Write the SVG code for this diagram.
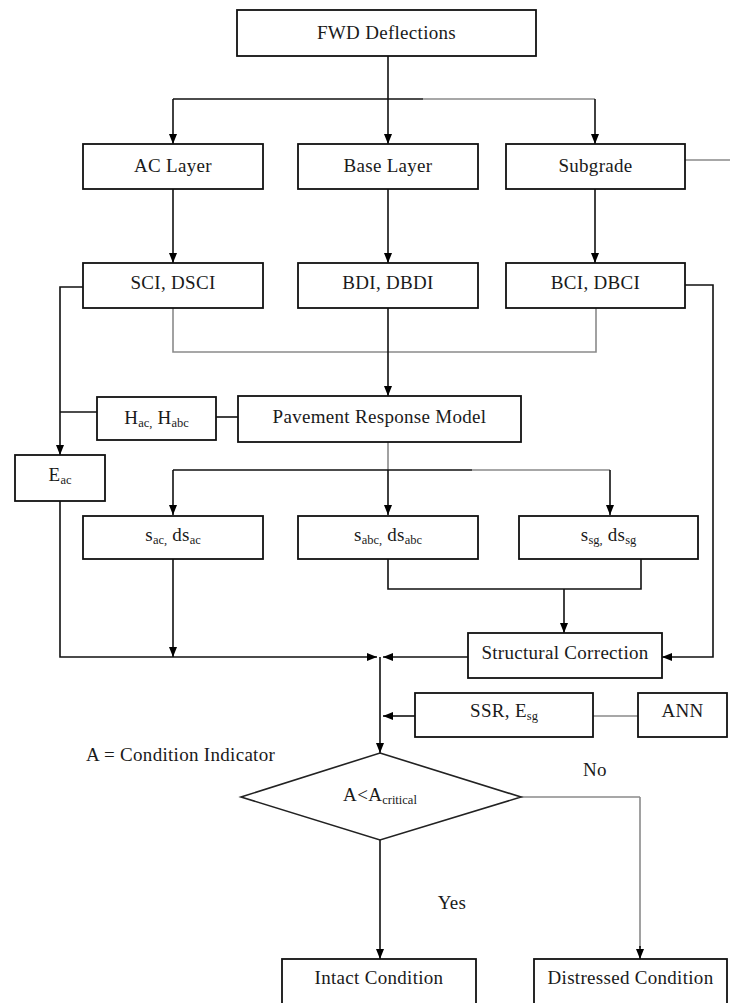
<svg xmlns="http://www.w3.org/2000/svg" width="730" height="1003" viewBox="0 0 730 1003">
<defs>
<marker id="ah" markerUnits="userSpaceOnUse" markerWidth="10" markerHeight="8" refX="10" refY="4" orient="auto">
<path d="M0,0 L10,4 L0,8 z" fill="#000"/>
</marker>
<style>
.box{fill:#fff;stroke:#111;stroke-width:1.8}
.t{font-family:"Liberation Serif","Times New Roman",serif;font-size:19px;letter-spacing:0.3px;fill:#1a1a1a;text-anchor:middle}
.tl{font-family:"Liberation Serif","Times New Roman",serif;font-size:19px;letter-spacing:0.3px;fill:#1a1a1a}
.sub{font-size:12.5px;letter-spacing:0}
.c{fill:none;stroke:#111;stroke-width:1.6}
.g{fill:none;stroke:#8a8a8a;stroke-width:1.6}
.a{marker-end:url(#ah)}
</style>
</defs>
<rect width="730" height="1003" fill="#fff"/>

<g id="connectors">
<path class="c a" d="M388,56 V144"/>
<path class="c" d="M173,99 H423"/>
<path class="g" d="M423,99 H595"/>
<path class="c a" d="M173,99 V144"/>
<path class="c a" d="M595,99 V144"/>
<path class="g" d="M685,160 H730"/>
<path class="c a" d="M173,189 V263"/>
<path class="c a" d="M388,189 V263"/>
<path class="c a" d="M595,189 V263"/>
<path class="g" d="M173,308 V352 H596 V308"/>
<path class="c a" d="M388,308 V396"/>
<path class="c a" d="M83,287 H60 V455"/>
<path class="c" d="M60,412 H97"/>
<path class="c" d="M216,417 H238"/>
<path class="c a" d="M685,285 H713 V657 H662"/>
<path class="g" d="M388,442 V470"/>
<path class="c" d="M173,470 H472"/>
<path class="g" d="M472,470 H610"/>
<path class="c a" d="M173,470 V515"/>
<path class="c a" d="M388,470 V515"/>
<path class="c a" d="M610,470 V515"/>
<path class="c" d="M388,559 V589 H641 V559"/>
<path class="c a" d="M564,589 V633"/>
<path class="c a" d="M60,501 V657 H377"/>
<path class="c a" d="M173,559 V657"/>
<path class="c a" d="M468,657 H383"/>
<path class="g" d="M638,716 H593"/>
<path class="c a" d="M415,716 H383"/>
<path class="c a" d="M380,657 V753"/>
<path class="c a" d="M380,840 V959"/>
<path class="g" d="M521,797 H640"/>
<path class="g" d="M640,797 V948"/>
<path class="c a" d="M640,946 V959"/>
</g>

<g id="fwd"><rect class="box" x="237" y="10" width="299" height="46"/><text class="t" x="386.5" y="39">FWD Deflections</text></g>
<g id="ac-layer"><rect class="box" x="83" y="144" width="180" height="45"/><text class="t" x="173" y="172">AC Layer</text></g>
<g id="base-layer"><rect class="box" x="298" y="144" width="180" height="45"/><text class="t" x="388" y="172">Base Layer</text></g>
<g id="subgrade"><rect class="box" x="506" y="144" width="179" height="45"/><text class="t" x="595.5" y="172">Subgrade</text></g>

<g id="sci"><rect class="box" x="83" y="263" width="180" height="45"/><text class="t" x="173" y="289">SCI, DSCI</text></g>
<g id="bdi"><rect class="box" x="298" y="263" width="180" height="45"/><text class="t" x="388" y="289">BDI, DBDI</text></g>
<g id="bci"><rect class="box" x="506" y="263" width="179" height="45"/><text class="t" x="595.5" y="289">BCI, DBCI</text></g>

<g id="thickness"><rect class="box" x="97" y="397" width="119" height="43"/><text class="t" x="156.5" y="424">H<tspan class="sub" dy="3">ac,</tspan><tspan dy="-3"> H</tspan><tspan class="sub" dy="3">abc</tspan></text></g>
<g id="prm"><rect class="box" x="238" y="396" width="283" height="46"/><text class="t" x="379.5" y="423">Pavement Response Model</text></g>
<g id="eac"><rect class="box" x="15" y="455" width="90" height="46"/><text class="t" x="60" y="481">E<tspan class="sub" dy="3">ac</tspan></text></g>

<g id="sac"><rect class="box" x="83" y="516" width="180" height="43"/><text class="t" x="173" y="541">s<tspan class="sub" dy="3">ac,</tspan><tspan dy="-3"> ds</tspan><tspan class="sub" dy="3">ac</tspan></text></g>
<g id="sabc"><rect class="box" x="298" y="516" width="180" height="43"/><text class="t" x="388" y="541">s<tspan class="sub" dy="3">abc,</tspan><tspan dy="-3"> ds</tspan><tspan class="sub" dy="3">abc</tspan></text></g>
<g id="ssg"><rect class="box" x="519" y="516" width="179" height="43"/><text class="t" x="608.5" y="541">s<tspan class="sub" dy="3">sg,</tspan><tspan dy="-3"> ds</tspan><tspan class="sub" dy="3">sg</tspan></text></g>

<g id="structural"><rect class="box" x="468" y="633" width="194" height="45"/><text class="t" x="565" y="659">Structural Correction</text></g>
<g id="ssr"><rect class="box" x="415" y="693" width="178" height="44"/><text class="t" x="504" y="717">SSR, E<tspan class="sub" dy="3">sg</tspan></text></g>
<g id="ann"><rect class="box" x="638" y="693" width="89" height="44"/><text class="t" x="682.5" y="717">ANN</text></g>

<g id="legend"><text class="tl" x="86" y="761">A = Condition Indicator</text></g>
<g id="decision"><path d="M380,753 L521,797 L380,840 L241,797 Z" fill="#fff" stroke="#222" stroke-width="1.6"/><text class="t" x="380" y="801">A&lt;A<tspan class="sub" dy="3">critical</tspan></text></g>
<g id="label-no"><text class="t" x="595" y="776">No</text></g>
<g id="label-yes"><text class="t" x="452" y="909">Yes</text></g>

<g id="intact"><rect class="box" x="282" y="959" width="194" height="60"/><text class="t" x="379" y="984">Intact Condition</text></g>
<g id="distressed"><rect class="box" x="534" y="959" width="193" height="60"/><text class="t" x="630.5" y="984">Distressed Condition</text></g>
</svg>
